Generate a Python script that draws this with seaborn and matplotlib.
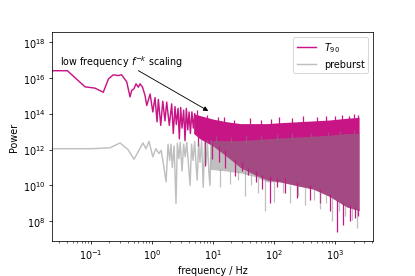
import numpy as np
import matplotlib
matplotlib.use("Agg")
import matplotlib.pyplot as plt
import seaborn as sns

# low frequency part of the T90 spectrum (Hz, log10 power)
t90_freq = [0.023, 0.041, 0.08, 0.116, 0.159, 0.193, 0.232, 0.28, 0.318, 0.385,
            0.436, 0.465, 0.507, 0.547, 0.597, 0.636, 0.70, 0.77, 0.82, 0.93,
            1.03, 1.12, 1.21, 1.27, 1.39, 1.50, 1.63, 1.74, 1.92, 2.10, 2.23, 2.38,
            2.5, 2.67, 2.8, 2.95, 3.1, 3.3, 3.47, 3.65, 3.85, 4.05, 4.25, 4.5,
            4.75, 5.0]
t90_logp = [16.4, 16.4, 15.5, 15.43, 15.2, 15.94, 16.17, 16.13, 16.17, 15.78,
            14.94, 15.3, 15.4, 15.67, 15.48, 15.67, 15.48, 15.0, 14.46, 15.1,
            14.1, 14.9, 13.55, 14.8, 13.35, 14.7, 13.6, 14.65, 13.35, 14.55, 12.9, 14.4,
            13.4, 14.3, 12.6, 14.35, 13.2, 14.2, 12.5, 14.3, 13.1, 14.1, 12.9, 14.1,
            13.2, 14.0]

# low frequency part of the preburst spectrum
pre_freq = [0.023, 0.104, 0.205, 0.299, 0.404, 0.507, 0.712, 0.797, 0.893, 1.03,
            1.16, 1.30, 1.41, 1.52, 1.70, 1.83, 1.95, 2.05, 2.15, 2.3, 2.47, 2.6,
            2.75, 2.9, 3.1, 3.3, 3.5, 3.7, 3.95, 4.2, 4.45, 4.7, 5.0, 5.3, 5.5,
            5.8, 6.1, 6.5, 6.9, 7.3, 7.7, 8.1, 8.5, 8.9, 9.3]
pre_logp = [12.05, 12.05, 12.1, 12.37, 12.0, 11.46, 12.37, 12.05, 12.46, 11.6,
            12.05, 11.78, 11.96, 11.3, 10.2, 12.3, 11.4, 12.3, 11.0, 12.2, 9.0, 12.35,
            11.5, 12.4, 10.8, 12.3, 11.6, 12.4, 11.2, 10.0, 12.3, 11.4, 12.45, 11.0, 10.3,
            12.4, 11.3, 12.5, 9.9, 12.4, 11.2, 12.5, 10.8, 10.0, 12.5]

# dense high frequency part: upper / lower envelope of the noise band
t90_band_f = [4.8, 6.1, 10, 17, 28, 48, 77, 125, 230, 436, 800, 1560, 2470]
t90_band_hi = [14.0, 13.9, 13.7, 13.55, 13.45, 13.45, 13.45, 13.5, 13.55, 13.6,
               13.65, 13.75, 13.8]
t90_band_lo = [12.9, 12.6, 12.2, 11.6, 11.0, 10.6, 10.3, 10.2, 10.0, 9.8,
               9.4, 8.8, 8.6]

pre_band_f = [9, 17, 28, 48, 77, 125, 230, 436, 800, 1560, 2470]
pre_band_hi = [12.5, 12.5, 12.5, 12.55, 12.6, 12.65, 12.7, 12.75, 12.8, 12.9, 12.9]
pre_band_lo = [10.9, 10.8, 10.7, 10.5, 10.2, 10.2, 10.0, 9.8, 9.4, 8.8, 8.6]

# downward spikes (freq, bottom, top)
t90_spk_f = [5.6, 7.4, 9.6, 12.5, 15.7, 23, 30, 37, 50, 63, 86, 110, 150, 240,
             390, 560, 830, 1080, 1360, 1750, 2130, 2350]
t90_spk_lo = [12.2, 11.1, 11.5, 11.3, 11.0, 10.5, 10.8, 10.6, 10.2, 9.8, 9.0,
              9.9, 9.6, 9.3, 9.2, 9.0, 8.6, 7.4, 7.8, 8.0, 8.2, 8.3]
t90_spk_hi = [13.0, 12.8, 12.4, 12.2, 12.0, 11.5, 11.3, 11.0, 10.8, 10.6, 10.5,
              10.4, 10.4, 10.2, 10.0, 9.8, 9.5, 9.2, 9.0, 8.9, 8.8, 8.7]

pre_spk_f = [13, 19, 26, 33, 42, 55, 71, 100, 140, 180, 250, 320, 450, 560,
             700, 890, 1150, 1450, 1900, 2300]
pre_spk_lo = [9.9, 10.1, 10.3, 9.4, 10.0, 9.6, 8.6, 9.1, 9.6, 9.0, 9.4, 8.9,
              9.2, 8.7, 9.0, 8.0, 8.6, 8.3, 8.1, 7.6]
pre_spk_hi = [10.9, 10.8, 10.8, 10.8, 10.6, 10.4, 10.3, 10.2, 10.2, 10.0, 10.0,
              9.9, 9.8, 9.7, 9.5, 9.4, 9.2, 8.9, 8.8, 8.7]

# upward spikes on top of the bands
t90_up_f = [5.5, 8, 12, 15, 22, 40, 60, 90, 120, 200, 300, 500, 700, 1000,
            1300, 1700, 2000, 2400]
t90_up_lo = [13.8, 13.6, 13.5, 13.5, 13.4, 13.4, 13.4, 13.4, 13.45, 13.5, 13.5,
             13.55, 13.6, 13.6, 13.65, 13.7, 13.75, 13.75]
t90_up_hi = [14.2, 13.95, 13.8, 13.8, 13.65, 13.75, 13.65, 13.7, 13.8, 13.75,
             13.85, 13.8, 13.9, 13.85, 13.95, 13.9, 14.0, 13.95]

pre_up_f = [11, 20, 35, 60, 110, 200, 400, 750, 1200, 2000]
pre_up_lo = [12.4, 12.4, 12.4, 12.5, 12.55, 12.6, 12.7, 12.75, 12.8, 12.85]
pre_up_hi = [12.75, 12.7, 12.8, 12.8, 12.85, 12.9, 12.95, 13.0, 13.05, 13.1]

c_t90 = "mediumvioletred"
c_pre = "grey"

fig = plt.figure(figsize=(6, 4), dpi=69.2)
ax = fig.add_axes([52 / 415, 1 - 242 / 277, 321 / 415, 209 / 277])

p = lambda v: 10 ** np.array(v)

sns.lineplot(x=t90_freq, y=p(t90_logp), color=c_t90, lw=1.5, sort=False,
             label="$T_{90}$", ax=ax)
ax.fill_between(t90_band_f, p(t90_band_lo), p(t90_band_hi), color=c_t90, lw=0)
ax.vlines(t90_spk_f, p(t90_spk_lo), p(t90_spk_hi), color=c_t90, lw=1.3)
ax.vlines(t90_up_f, p(t90_up_lo), p(t90_up_hi), color=c_t90, lw=1.3)

sns.lineplot(x=pre_freq, y=p(pre_logp), color=c_pre, alpha=0.5, lw=1.5,
             sort=False, label="preburst", ax=ax)
ax.fill_between(pre_band_f, p(pre_band_lo), p(pre_band_hi), color=c_pre,
                alpha=0.5, lw=0)
ax.vlines(pre_spk_f, p(pre_spk_lo), p(pre_spk_hi), color=c_pre, alpha=0.5, lw=1.3)
ax.vlines(pre_up_f, p(pre_up_lo), p(pre_up_hi), color=c_pre, alpha=0.5, lw=1.3)

ax.set(xscale="log", yscale="log")
ax.set_xlim(0.023, 4200)
ax.set_ylim(10 ** 6.9, 10 ** 18.55)
ax.set_xlabel("frequency / Hz")
ax.set_ylabel("Power")

ax.text(0.031, 10 ** 16.94, "low frequency $f^{-k}$ scaling", va="center")
ax.annotate("", xy=(8.9, 10 ** 14.1), xytext=(0.56, 10 ** 16.46),
            arrowprops=dict(arrowstyle="-|>", color="k", lw=0.9))

ax.legend(loc="upper right")
fig.savefig("out.png")
